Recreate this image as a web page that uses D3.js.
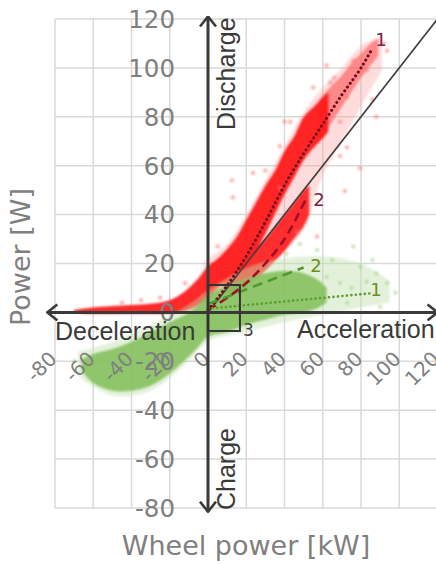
<!DOCTYPE html>
<html lang="en">
<head>
<meta charset="UTF-8">
<title>Battery power vs wheel power</title>
<script src="https://cdn.jsdelivr.net/npm/d3@7"></script>
<style>
    body{ margin:0; background:#fff; }
    svg{ display:block; font-family:"DejaVu Sans", sans-serif; }
    .grid line{ stroke:#d9d9d9; stroke-width:1.5px; }
    .ytick{ fill:#7f7f7f; font-size:24.5px; }
    .xtick{ fill:#7f7f7f; font-size:20px; }
    .title{ fill:#7f7f7f; font-size:27px; }
    .dir{ fill:#3a3a3a; font-family:"Liberation Sans", Arial, sans-serif; font-size:25px; }
    .axisline{ stroke:#3a3a3a; stroke-width:3px; fill:none; }
</style>
</head>
<body>
<script>
// ticks (kW on x, W on y)
const xTicks = [-80, -60, -40, -20, 0, 20, 40, 60, 80, 100, 120];
const yTicks = [-80, -60, -40, -20, 0, 20, 40, 60, 80, 100, 120];

// scatter clouds: [wheel power, low edge, high edge]
const redMain = [[-70,0,1],[-60,-0.5,2],[-40,-0.5,3],[-30,-0.5,3.5],[-20,-0.5,5],[-15,0,7],
    [-10,1,10],[-5,3,14],[0,6,19],[5,10,22],[10,13,26],[15,16,31],[20,20,38],[25,25,45],
    [30,32,52],[35,40,58],[40,48,66],[45,55,72],[50,62,80],[55,67,84],[60,71,88],[63,74,90]];
const redUpper = [[58,70,87],[65,78,93],[70,84,97],[75,90,102],[80,96,106],[85,101,110],[89,105,112]];
const redLower = [[8,8,14],[12,8,16],[16,9,19],[20,11,22],[25,14,26],[30,17,30],[35,21,35],
    [40,25,40],[45,30,45],[50,35,50],[53,40,52]];
const redHalo = [[-2,4,21],[10,9,28],[20,13,40],[30,18,54],[40,25,68],[50,34,82],[60,56,92],
    [70,70,100],[80,84,109],[91,99,113]];
const redDots = [[12.5,54],[23.5,57],[43,78],[37.6,68],[66,96],[69,78],[72.7,67.5],[83,99],
    [86,87],[93.6,107],[79.5,59],[62,101],[37.6,51],[13,47],[71.6,49.7],[69,64],[57,31],
    [46.5,33],[40,78],[72.7,88],[88,80],[76,103],[64,94],[80.5,99],[30,58],[55,92],
    [-35,5],[-25,6],[-45,4],[-12,12],[5,27],[92,110]];

const greenMain = [[-66,-24,-19],[-60,-29,-17],[-50,-32,-15],[-40,-32,-12],[-30,-30,-8],
    [-20,-25,-4],[-10,-18,0],[-5,-14,3],[0,-10,7],[10,-8,11],[20,-5,14],[30,-3,16],
    [40,-1,17],[50,0,16],[58,2,13],[62,4,10]];
const greenHalo = [[-68,-26,-16],[-50,-34,-12],[-30,-32,-5],[-10,-20,3],[0,-12,9],[20,-8,18],
    [40,-4,22],[60,-1,23],[80,2,20],[95,4,13]];
const greenDots = [[65,21.4],[79.5,18.7],[83,12.6],[93.6,12],[90,2.2],[72.7,3.8],[69,12],
    [62,14.5],[76,27],[57,25.5],[86,21.4],[48,28],[41,24],[98,8],[88,16],[75,10],[-70,-20],[-8,-3]];

// trend lines
const redTrend1 = [[0,1],[10,11],[20,23],[30,37],[40,52],[50,65],[60,77],[70,89],[80,100],[86,108]];
const redTrend2 = [[0,1],[10,6],[20,12],[30,20],[40,30],[51,46]];
const greenTrend2 = [[0,3.4],[50,18.4]];
const greenTrend1 = [[0,1.5],[85,7.8]];
const unityLine = [[0,0],[120,120]];

// label anchors for the trend lines
const trendLabels = [
    {text:"1", x:90.5, y:111.8, color:"#7b2346"},
    {text:"2", x:58, y:46, color:"#7b2346"},
    {text:"2", x:56.5, y:19, color:"#6b8e23"},
    {text:"1", x:87.8, y:9.2, color:"#6b8e23"}
];
const boxX = [0, 16.7];
const boxY = [-7.6, 11.2];
const vArrow = [[0,-81.5],[0,121]];
const hArrow = [[-84,0],[120,0]];

const width = 436, height = 565;
const svg = d3.select("body").append("svg")
    .attr("width", width).attr("height", height)
    .attr("viewBox", `0 0 ${width} ${height}`);

const x = d3.scaleLinear().domain([-80, 120]).range([55, 437.5]);
const y = d3.scaleLinear().domain([-80, 120]).range([508, 19]);

const defs = svg.append("defs");
defs.append("filter").attr("id", "fuzz")
    .attr("x", "-10%").attr("y", "-10%").attr("width", "120%").attr("height", "120%")
    .append("feGaussianBlur").attr("stdDeviation", 1.2);
defs.append("marker").attr("id", "head")
    .attr("viewBox", "0 0 12 18").attr("refX", 11).attr("refY", 9)
    .attr("markerWidth", 12).attr("markerHeight", 18)
    .attr("markerUnits", "userSpaceOnUse").attr("orient", "auto-start-reverse")
    .append("path").attr("d", "M1,1 L11,9 L1,17")
    .attr("fill", "none").attr("stroke", "#3a3a3a").attr("stroke-width", 2.6);

// grid
const grid = svg.append("g").attr("class", "grid");
grid.selectAll(".gx").data(xTicks).join("line")
    .attr("x1", d => x(d)).attr("x2", d => x(d))
    .attr("y1", y(-80)).attr("y2", y(120));
grid.selectAll(".gy").data(yTicks).join("line")
    .attr("x1", x(-80)).attr("x2", x(120))
    .attr("y1", d => y(d)).attr("y2", d => y(d));

// clouds
const band = d3.area().curve(d3.curveCatmullRom)
    .x(d => x(d[0])).y0(d => y(d[1])).y1(d => y(d[2]));
const clouds = svg.append("g").attr("filter", "url(#fuzz)");
clouds.append("path").datum(redHalo).attr("d", band).attr("fill", "#ff9a9a").attr("opacity", 0.35);
clouds.append("path").datum(redUpper).attr("d", band).attr("fill", "#ff5050").attr("opacity", 0.6);
clouds.append("path").datum(redMain).attr("d", band).attr("fill", "#ff1a1a").attr("opacity", 0.95);
clouds.append("path").datum(redLower).attr("d", band).attr("fill", "#ff2020").attr("opacity", 0.92);
clouds.selectAll(".rd").data(redDots).join("circle")
    .attr("cx", d => x(d[0])).attr("cy", d => y(d[1])).attr("r", 2.2)
    .attr("fill", "#ff7070").attr("opacity", 0.55);
clouds.append("path").datum(greenHalo).attr("d", band).attr("fill", "#c2e0ad").attr("opacity", 0.45);
clouds.append("path").datum(greenMain).attr("d", band).attr("fill", "#84bf5c").attr("opacity", 0.88);
clouds.selectAll(".gd").data(greenDots).join("circle")
    .attr("cx", d => x(d[0])).attr("cy", d => y(d[1])).attr("r", 2)
    .attr("fill", "#9ccc7c").attr("opacity", 0.6);

// tick labels sit on top of the clouds
svg.append("g").selectAll("text").data(yTicks).join("text")
    .attr("class", "ytick")
    .attr("x", 175).attr("y", d => y(d)).attr("dy", "0.36em")
    .attr("text-anchor", "end").text(d => d);
svg.append("g").selectAll("text").data(xTicks).join("text")
    .attr("class", "xtick")
    .attr("text-anchor", "end")
    .attr("transform", d => `translate(${x(d) + 3},360) rotate(-45)`)
    .text(d => d);

// trend lines
const line = d3.line().curve(d3.curveMonotoneX).x(d => x(d[0])).y(d => y(d[1]));
svg.append("path").datum(unityLine).attr("d", line)
    .attr("fill", "none").attr("stroke", "#404040").attr("stroke-width", 1.6);
svg.append("path").datum(redTrend2).attr("d", line)
    .attr("fill", "none").attr("stroke", "#a00f28").attr("stroke-width", 2.6)
    .attr("stroke-dasharray", "9,5");
svg.append("path").datum(redTrend1).attr("d", line)
    .attr("fill", "none").attr("stroke", "#6e0d1b").attr("stroke-width", 3)
    .attr("stroke-dasharray", "0.1,4.6").attr("stroke-linecap", "round");
svg.append("path").datum(greenTrend2).attr("d", line)
    .attr("fill", "none").attr("stroke", "#4f9a2c").attr("stroke-width", 2.6)
    .attr("stroke-dasharray", "10,6");
svg.append("path").datum(greenTrend1).attr("d", line)
    .attr("fill", "none").attr("stroke", "#5d9e2f").attr("stroke-width", 2.6)
    .attr("stroke-dasharray", "0.1,4.4").attr("stroke-linecap", "round");

svg.append("g").selectAll("text").data(trendLabels).join("text")
    .attr("x", d => x(d.x)).attr("y", d => y(d.y)).attr("dy", "0.36em")
    .attr("text-anchor", "middle").attr("font-size", 18)
    .attr("fill", d => d.color).text(d => d.text);

// axes with arrow heads
const straight = d3.line().x(d => x(d[0])).y(d => y(d[1]));
svg.append("path").datum(vArrow).attr("class", "axisline").attr("d", straight)
    .attr("marker-start", "url(#head)").attr("marker-end", "url(#head)");
svg.append("path").datum(hArrow).attr("class", "axisline").attr("d", straight)
    .attr("marker-start", "url(#head)").attr("marker-end", "url(#head)");

// region 3 box
svg.append("rect")
    .attr("x", x(boxX[0])).attr("y", y(boxY[1]))
    .attr("width", x(boxX[1]) - x(boxX[0])).attr("height", y(boxY[0]) - y(boxY[1]))
    .attr("fill", "none").attr("stroke", "#333").attr("stroke-width", 2);
svg.append("text").attr("x", x(boxX[1]) + 3).attr("y", y(boxY[0]) + 5)
    .attr("font-size", 17).attr("fill", "#404040").text("3");

// direction words
svg.append("text").attr("class", "dir").attr("x", 55).attr("y", 340).text("Deceleration");
svg.append("text").attr("class", "dir").attr("x", 297).attr("y", 338).text("Acceleration");
svg.append("text").attr("class", "dir").attr("transform", "translate(235,130) rotate(-90)").text("Discharge");
svg.append("text").attr("class", "dir").attr("transform", "translate(235,510) rotate(-90)").text("Charge");

// axis titles
svg.append("text").attr("class", "title").attr("text-anchor", "middle")
    .attr("transform", "translate(30,257) rotate(-90)").text("Power [W]");
svg.append("text").attr("class", "title").attr("text-anchor", "middle")
    .attr("x", 246).attr("y", 555).text("Wheel power [kW]");
</script>
</body>
</html>
